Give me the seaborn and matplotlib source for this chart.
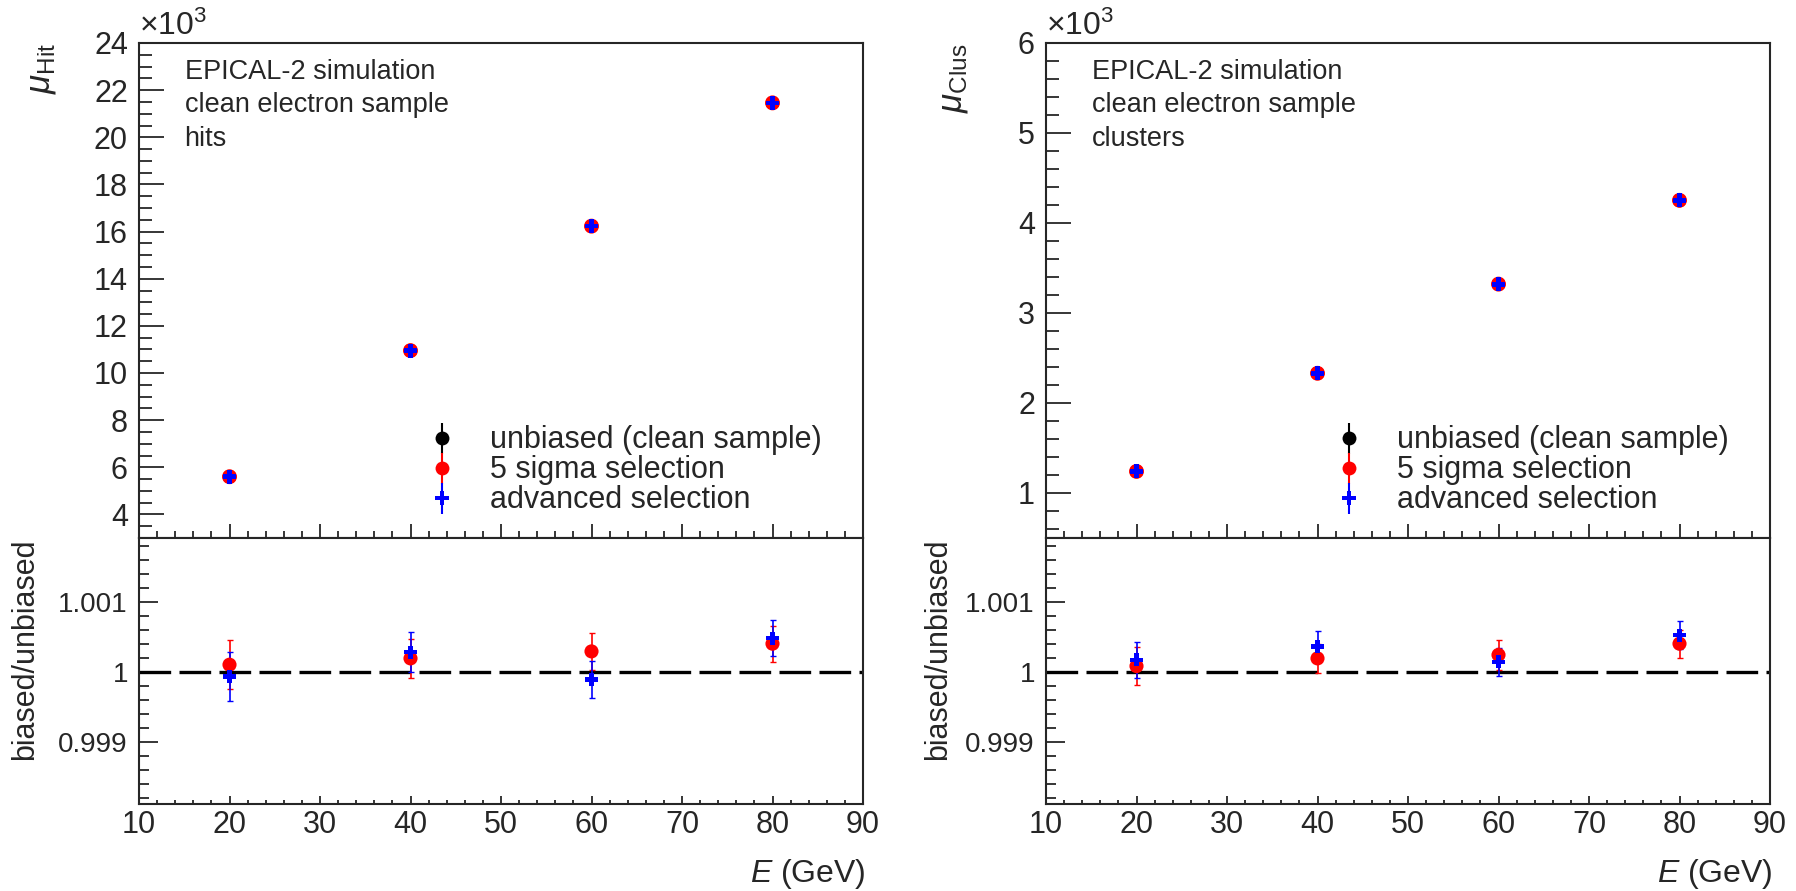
import pandas as pd
import matplotlib
matplotlib.use("Agg")
from matplotlib import pyplot as plt
from matplotlib.ticker import MultipleLocator, FuncFormatter
from matplotlib.lines import Line2D
from matplotlib.legend_handler import HandlerTuple
import seaborn as sb

"""DATA"""

energy = [20, 40, 60, 80]

# mean number of hits / clusters (x 10^3)
hits_unbiased = [5.60, 10.95, 16.23, 21.45]
hits_5sigma = [5.60, 10.95, 16.23, 21.46]
hits_advanced = [5.60, 10.95, 16.23, 21.46]
hits_err = [0.02, 0.03, 0.04, 0.05]

clus_unbiased = [1.240, 2.330, 3.320, 4.250]
clus_5sigma = [1.240, 2.330, 3.321, 4.252]
clus_advanced = [1.240, 2.331, 3.320, 4.252]
clus_err = [0.006, 0.008, 0.010, 0.012]

# ratios biased / unbiased
hits_ratio_5sigma = [1.00010, 1.00019, 1.00029, 1.00040]
hits_ratio_5sigma_err = [0.00035, 0.00028, 0.00026, 0.00026]
hits_ratio_adv = [0.99993, 1.00028, 0.99989, 1.00048]
hits_ratio_adv_err = [0.00035, 0.00029, 0.00026, 0.00026]

clus_ratio_5sigma = [1.00008, 1.00019, 1.00024, 1.00040]
clus_ratio_5sigma_err = [0.00027, 0.00021, 0.00022, 0.00020]
clus_ratio_adv = [1.00017, 1.00036, 1.00014, 1.00052]
clus_ratio_adv_err = [0.00026, 0.00022, 0.00020, 0.00020]

labels = ["unbiased (clean sample)", "5 sigma selection", "advanced selection"]
colors = ["black", "#ff0000", "#0000ff"]
markers = ["o", "o", "P"]
msizes = [95, 115, 100]

"""STYLE"""

sb.set_style("ticks")
plt.rcParams["font.family"] = ["Liberation Sans", "DejaVu Sans"]
plt.rcParams["mathtext.fontset"] = "custom"
plt.rcParams["mathtext.rm"] = "Liberation Sans"
plt.rcParams["mathtext.it"] = "Liberation Sans:italic"
plt.rcParams["axes.linewidth"] = 1.5

fig = plt.figure(figsize=(17.96, 8.91), dpi=100)

W = 724 / 1796
H_top = 495 / 891
H_rat = 266 / 891
B_rat = 1 - 804 / 891
B_top = 1 - 538 / 891


def style_x(ax, big, labels_on):
    ax.set_xlim(10, 90)
    ax.xaxis.set_major_locator(MultipleLocator(10))
    ax.xaxis.set_minor_locator(MultipleLocator(2))
    ax.tick_params(axis="x", which="major", direction="in", length=big, width=1.3,
                   labelsize=22, pad=4, labelbottom=labels_on, top=False)
    ax.tick_params(axis="x", which="minor", direction="in", length=big / 2, width=1.3, top=False)


def panel(x0, vals, err, ylim, ymaj, ymin, ylab, tag, ratios, ylab_x):
    ax = fig.add_axes([x0, B_top, W, H_top])
    rx = fig.add_axes([x0, B_rat, W, H_rat])

    # top panel: mean values
    for v, c, m, s, l in zip(vals, colors, markers, msizes, labels):
        df = pd.DataFrame({"E": energy, "mu": v, "err": err})
        ax.errorbar(df["E"], df["mu"], yerr=df["err"], fmt="none", ecolor=c,
                    elinewidth=1.2, capsize=2, zorder=2)
        sb.scatterplot(data=df, x="E", y="mu", color=c, marker=m, s=s,
                       edgecolor="none", ax=ax, zorder=3, legend=False)
    ax.set_ylim(*ylim)
    ax.yaxis.set_major_locator(MultipleLocator(ymaj))
    ax.yaxis.set_minor_locator(MultipleLocator(ymin))
    ax.tick_params(axis="y", which="major", direction="in", length=18, width=1.3,
                   labelsize=22, pad=8, right=False)
    ax.tick_params(axis="y", which="minor", direction="in", length=9, width=1.3, right=False)
    style_x(ax, 10, False)
    ax.set_xlabel("")
    ax.set_ylabel(ylab, fontsize=25, loc="top")
    ax.yaxis.set_label_coords(ylab_x, 1.0)
    ax.text(0.0, 1.003, r"$\times\mathregular{10^{3}}$", transform=ax.transAxes,
            fontsize=23, ha="left", va="bottom")
    ax.text(0.063, 0.968, "EPICAL-2 simulation\nclean electron sample\n" + tag,
            transform=ax.transAxes, fontsize=19.5, ha="left", va="top", linespacing=1.38)

    handles = []
    for c, m in zip(colors, markers):
        eb = ax.errorbar([], [], yerr=[], fmt="none", ecolor=c, elinewidth=1.5, capsize=3)
        mk = Line2D([], [], marker=m, ls="none", color=c, markersize=10, markeredgewidth=0)
        handles.append((eb, mk))
    ax.legend(handles, labels, handler_map={tuple: HandlerTuple(ndivide=1)},
              loc="center left", bbox_to_anchor=(0.398, 0.137), frameon=False,
              fontsize=22, handlelength=1.0, handleheight=0.5, handletextpad=1.05,
              labelspacing=0.0, borderpad=0, borderaxespad=0)

    # ratio panel
    rx.axhline(1.0, color="black", lw=2.4, ls=(0, (9.5, 2.5)), zorder=1)
    for (r, re), c, m, s in zip(ratios, colors[1:], markers[1:], msizes[1:]):
        df = pd.DataFrame({"E": energy, "r": r, "err": re})
        rx.errorbar(df["E"], df["r"], yerr=df["err"], fmt="none", ecolor=c,
                    elinewidth=1.2, capsize=2, zorder=2)
        sb.scatterplot(data=df, x="E", y="r", color=c, marker=m, s=s * 0.9,
                       edgecolor="none", ax=rx, zorder=3, legend=False)
    rx.set_ylim(0.99811, 1.00191)
    rx.set_yticks([0.999, 1.0, 1.001])
    rx.yaxis.set_minor_locator(MultipleLocator(0.0002))
    rx.yaxis.set_major_formatter(FuncFormatter(lambda v, p: "%g" % round(v, 4)))
    rx.tick_params(axis="y", which="major", direction="in", length=14, width=1.3,
                   labelsize=20, pad=8, right=False)
    rx.tick_params(axis="y", which="minor", direction="in", length=7, width=1.3, right=False)
    style_x(rx, 6, True)
    rx.set_ylabel("biased/unbiased", fontsize=22, loc="top")
    rx.yaxis.set_label_coords(ylab_x - 0.024, 1.0)
    rx.set_xlabel(r"$\it{E}$ (GeV)", fontsize=23, loc="right")
    rx.xaxis.set_label_coords(1.004, -0.2)
    return ax, rx


panel(139 / 1796, [hits_unbiased, hits_5sigma, hits_advanced], hits_err,
      (3, 24), 2, 0.5, r"$\mu_{\mathrm{Hit}}$", "hits",
      [(hits_ratio_5sigma, hits_ratio_5sigma_err), (hits_ratio_adv, hits_ratio_adv_err)],
      -0.112)

panel(1046 / 1796, [clus_unbiased, clus_5sigma, clus_advanced], clus_err,
      (0.5, 6), 1, 0.2, r"$\mu_{\mathrm{Clus}}$", "clusters",
      [(clus_ratio_5sigma, clus_ratio_5sigma_err), (clus_ratio_adv, clus_ratio_adv_err)],
      -0.105)

plt.savefig("out.png", dpi=100)
plt.close()
